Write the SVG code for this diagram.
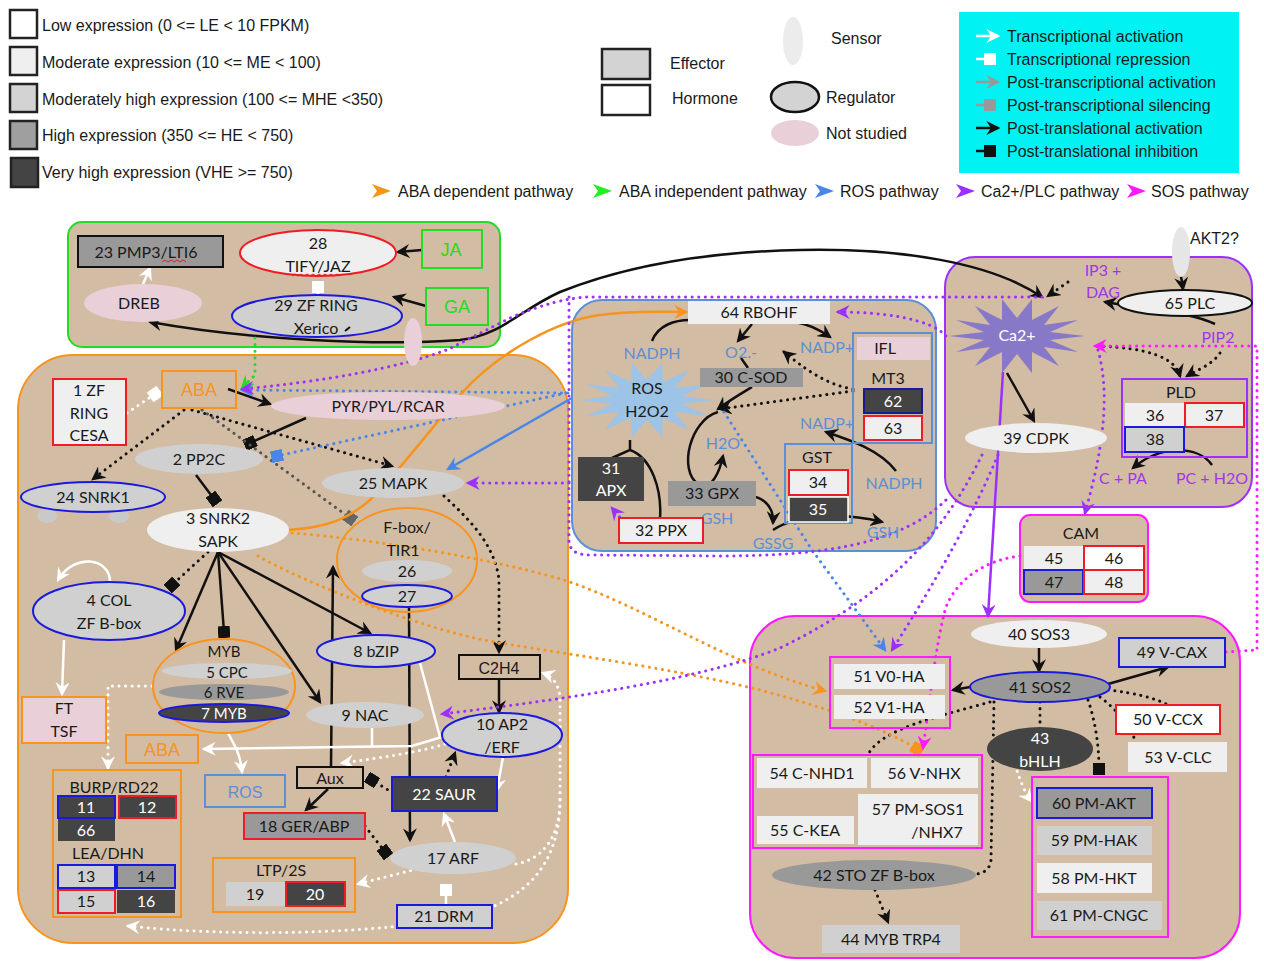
<svg xmlns="http://www.w3.org/2000/svg" width="1264" height="961" viewBox="0 0 1264 961">
<defs>
<style>
.lg{font-family:"Liberation Sans",Arial,sans-serif;font-size:16px;fill:#1a1a1a}
.t{font-family:Lato,"Open Sans","Liberation Sans",sans-serif;font-size:16px;fill:#1a1a1a;text-anchor:middle}
.a{font-family:"Liberation Sans",Arial,sans-serif;text-anchor:middle}
.w{fill:#fff}
.bt{fill:#5b8fd6}
.pt{fill:#a335e8}
.ot{fill:#f7941d;font-size:18px}
.gt{fill:#22dd22;font-size:18px}
.tan{fill:#d3bca4}
.g0{fill:#fff}.g1{fill:#efefef}.g2{fill:#d0d0d0}.g3{fill:#999}.g4{fill:#444}.pk{fill:#e9d0d8}.nf{fill:none}
.sk{stroke:#111;stroke-width:2}
.sr{stroke:#ee1c24;stroke-width:2}
.sb{stroke:#1a1adf;stroke-width:2}
.so{stroke:#f7941d;stroke-width:2}
.sg{stroke:#22dd22;stroke-width:2}
.sm{stroke:#ff1aff;stroke-width:2}
.sp{stroke:#9b30ff;stroke-width:2}
.sl{stroke:#5b8fd6;stroke-width:2}
.c{fill:none;stroke-width:2.5}
.d{fill:none;stroke-width:3;stroke-dasharray:0.1 6.5;stroke-linecap:round}
.ck{stroke:#111}.cw{stroke:#fff}.co{stroke:#f7941d}.cg{stroke:#22dd22}.cb{stroke:#4a86e8}.cp{stroke:#9b30ff}.cm{stroke:#ff1aff}.cgy{stroke:#555}
.sm15{font-size:15px}
</style>
<marker id="aK" viewBox="0 0 12 12" refX="10" refY="6" markerWidth="14" markerHeight="14" orient="auto-start-reverse" markerUnits="userSpaceOnUse"><path d="M0,0 L12,6 L0,12 L4,6z" fill="#111"/></marker>
<marker id="aW" viewBox="0 0 12 12" refX="10" refY="6" markerWidth="14" markerHeight="14" orient="auto-start-reverse" markerUnits="userSpaceOnUse"><path d="M0,0 L12,6 L0,12 L4,6z" fill="#fff"/></marker>
<marker id="aO" viewBox="0 0 12 12" refX="10" refY="6" markerWidth="14" markerHeight="14" orient="auto-start-reverse" markerUnits="userSpaceOnUse"><path d="M0,0 L12,6 L0,12 L4,6z" fill="#f7941d"/></marker>
<marker id="aG" viewBox="0 0 12 12" refX="10" refY="6" markerWidth="14" markerHeight="14" orient="auto-start-reverse" markerUnits="userSpaceOnUse"><path d="M0,0 L12,6 L0,12 L4,6z" fill="#22dd22"/></marker>
<marker id="aB" viewBox="0 0 12 12" refX="10" refY="6" markerWidth="14" markerHeight="14" orient="auto-start-reverse" markerUnits="userSpaceOnUse"><path d="M0,0 L12,6 L0,12 L4,6z" fill="#4a86e8"/></marker>
<marker id="aP" viewBox="0 0 12 12" refX="10" refY="6" markerWidth="14" markerHeight="14" orient="auto-start-reverse" markerUnits="userSpaceOnUse"><path d="M0,0 L12,6 L0,12 L4,6z" fill="#9b30ff"/></marker>
<marker id="aM" viewBox="0 0 12 12" refX="10" refY="6" markerWidth="14" markerHeight="14" orient="auto-start-reverse" markerUnits="userSpaceOnUse"><path d="M0,0 L12,6 L0,12 L4,6z" fill="#ff1aff"/></marker>
<marker id="aGy" viewBox="0 0 12 12" refX="10" refY="6" markerWidth="14" markerHeight="14" orient="auto-start-reverse" markerUnits="userSpaceOnUse"><path d="M0,0 L12,6 L0,12 L4,6z" fill="#999"/></marker>
<marker id="sK" viewBox="0 0 10 10" refX="5" refY="5" markerWidth="12" markerHeight="12" orient="auto" markerUnits="userSpaceOnUse"><rect width="10" height="10" fill="#111"/></marker>
<marker id="sW" viewBox="0 0 10 10" refX="5" refY="5" markerWidth="12" markerHeight="12" orient="auto" markerUnits="userSpaceOnUse"><rect width="10" height="10" fill="#fff"/></marker>
<marker id="sB" viewBox="0 0 10 10" refX="5" refY="5" markerWidth="12" markerHeight="12" orient="auto" markerUnits="userSpaceOnUse"><rect width="10" height="10" fill="#4a86e8"/></marker>
<marker id="sGy" viewBox="0 0 10 10" refX="5" refY="5" markerWidth="12" markerHeight="12" orient="auto" markerUnits="userSpaceOnUse"><rect width="10" height="10" fill="#666"/></marker>
<marker id="sGl" viewBox="0 0 10 10" refX="5" refY="5" markerWidth="12" markerHeight="12" orient="auto" markerUnits="userSpaceOnUse"><rect width="10" height="10" fill="#999"/></marker>
<marker id="sO" viewBox="0 0 10 10" refX="5" refY="5" markerWidth="12" markerHeight="12" orient="auto" markerUnits="userSpaceOnUse"><rect width="10" height="10" fill="#f7941d"/></marker>
</defs>
<rect width="1264" height="961" fill="#fff"/>

<g id="legend-expression">
<rect x="10" y="10" width="27" height="28" fill="#fff" stroke="#222" stroke-width="2.5"/>
<text class="lg" x="42" y="31">Low expression (0 &lt;= LE &lt; 10 FPKM)</text>
<rect x="10" y="47" width="27" height="28" fill="#efefef" stroke="#222" stroke-width="2.5"/>
<text class="lg" x="42" y="68">Moderate expression (10 &lt;= ME &lt; 100)</text>
<rect x="10" y="84" width="27" height="28" fill="#d3d3d3" stroke="#222" stroke-width="2.5"/>
<text class="lg" x="42" y="105">Moderately high expression (100 &lt;= MHE &lt;350)</text>
<rect x="10" y="121" width="27" height="28" fill="#9f9f9f" stroke="#222" stroke-width="2.5"/>
<text class="lg" x="42" y="141">High expression (350 &lt;= HE &lt; 750)</text>
<rect x="11" y="158" width="27" height="29" fill="#444" stroke="#222" stroke-width="2.5"/>
<text class="lg" x="42" y="178">Very high expression (VHE &gt;= 750)</text>
</g>

<g id="legend-types">
<rect x="602" y="49" width="48" height="30" fill="#d3d3d3" stroke="#222" stroke-width="2.5"/>
<text class="lg" x="670" y="69">Effector</text>
<rect x="602" y="85" width="48" height="30" fill="#fff" stroke="#222" stroke-width="2.5"/>
<text class="lg" x="672" y="104">Hormone</text>
<ellipse cx="793" cy="41" rx="10" ry="24" fill="#ececec"/>
<text class="lg" x="831" y="44">Sensor</text>
<ellipse cx="795" cy="97" rx="24" ry="15" fill="#d3d3d3" stroke="#111" stroke-width="2.5"/>
<text class="lg" x="826" y="103">Regulator</text>
<ellipse cx="795" cy="133" rx="24" ry="13" fill="#e9d0d8"/>
<text class="lg" x="826" y="139">Not studied</text>
</g>

<g id="legend-interactions">
<rect x="959" y="12" width="280" height="161" fill="#00f2f2"/>
<path class="c cw" d="M976,36 L998,36" marker-end="url(#aW)"/>
<text class="lg" x="1007" y="42">Transcriptional activation</text>
<path class="c cw" d="M976,59 L990,59" marker-end="url(#sW)"/>
<text class="lg" x="1007" y="65">Transcriptional repression</text>
<path class="c" stroke="#999" d="M976,82 L998,82" marker-end="url(#aGy)"/>
<text class="lg" x="1007" y="88">Post-transcriptional activation</text>
<path class="c" stroke="#999" d="M976,105 L990,105" marker-end="url(#sGl)"/>
<text class="lg" x="1007" y="111">Post-transcriptional silencing</text>
<path class="c ck" d="M976,128 L998,128" marker-end="url(#aK)"/>
<text class="lg" x="1007" y="134">Post-translational activation</text>
<path class="c ck" d="M976,151 L990,151" marker-end="url(#sK)"/>
<text class="lg" x="1007" y="157">Post-translational inhibition</text>
</g>

<g id="legend-pathways">
<polygon points="372,184 391,191 372,198 377,191" fill="#f7941d"/>
<text class="lg" x="398" y="197">ABA dependent pathway</text>
<polygon points="593,184 612,191 593,198 598,191" fill="#22ee22"/>
<text class="lg" x="619" y="197">ABA independent pathway</text>
<polygon points="815,184 834,191 815,198 820,191" fill="#4a86e8"/>
<text class="lg" x="840" y="197">ROS pathway</text>
<polygon points="956,184 975,191 956,198 961,191" fill="#9b30ff"/>
<text class="lg" x="981" y="197">Ca2+/PLC pathway</text>
<polygon points="1127,184 1146,191 1127,198 1132,191" fill="#ff1aff"/>
<text class="lg" x="1151" y="197">SOS pathway</text>
</g>

<g id="box-ja-ga"><rect x="68" y="222" width="432" height="125" rx="14" class="tan sg" stroke-width="2.5"/></g>
<g id="box-aba"><rect x="18" y="355" width="550" height="588" rx="55" class="tan so" stroke-width="2.5"/></g>
<g id="box-ros"><rect x="572" y="300" width="364" height="251" rx="30" class="tan sl"/></g>
<g id="box-ca-plc"><rect x="945" y="257" width="307" height="250" rx="30" class="tan sp"/></g>
<g id="box-cam"><rect x="1020" y="515" width="128" height="87" rx="10" class="tan sm"/></g>
<g id="box-sos"><rect x="750" y="616" width="490" height="342" rx="45" class="tan sm"/></g>

<g id="connectors">
<path class="c ck" d="M422,250 L398,252" marker-end="url(#aK)"/>
<path class="c ck" d="M426,306 L394,297" marker-end="url(#aK)"/>
<path class="c ck" d="M150,322 C250,340 380,346 460,340 C500,336 520,310 560,292 C620,268 700,252 800,250 C900,248 990,262 1042,297" marker-start="url(#aK)" marker-end="url(#aK)"/>
<path class="c ck" d="M228,389 L270,404" marker-end="url(#aK)"/>
<path class="c ck" d="M306,418 L250,443" marker-end="url(#sK)"/>
<path class="c ck" d="M196,475 L214,499" marker-end="url(#sK)"/>
<path class="c ck" d="M218,552 L176,650" marker-end="url(#aK)"/>
<path class="c ck" d="M218,552 L224,632" marker-end="url(#sK)"/>
<path class="c ck" d="M218,552 L320,702" marker-end="url(#aK)"/>
<path class="c ck" d="M218,552 L370,633" marker-end="url(#aK)"/>
<path class="c ck" d="M331,767 L333,567" marker-end="url(#aK)"/>
<path class="c ck" d="M409,607 L410,840" marker-end="url(#aK)"/>
<path class="c ck" d="M499,679 L499,712" marker-end="url(#aK)"/>
<path class="c ck" d="M328,789 L306,810" marker-end="url(#aK)"/>
<path class="c ck" d="M1007,373 L1034,421" marker-end="url(#aK)"/>
<path class="c ck" d="M1181,276 L1183,289" marker-end="url(#aK)"/>
<path class="c ck" d="M1215,324 C1190,312 1150,310 1105,302" marker-end="url(#aK)"/>
<path class="c ck" d="M1212,465 C1198,445 1160,445 1133,468" marker-end="url(#aK)"/>
<path class="c ck" d="M1039,648 L1039,671" marker-end="url(#aK)"/>
<path class="c ck" d="M1108,684 L1168,667" marker-end="url(#aK)"/>
<path class="c ck" d="M970,687 L953,690" marker-end="url(#aK)"/>
<path class="c ck" d="M652,341 C658,325 675,320 690,320"/>
<path class="c ck" d="M752,324 L738,341" marker-end="url(#aK)"/>
<path class="c ck" d="M795,322 C808,324 820,330 830,337" marker-end="url(#aK)"/>
<path class="c ck" d="M741,358 L748,368"/>
<path class="c ck" d="M752,387 C742,393 730,400 718,409" marker-end="url(#aK)"/>
<path class="c ck" d="M718,412 C690,420 678,470 698,484 C712,492 720,470 723,456" marker-end="url(#aK)"/>
<path class="c ck" d="M742,495 C762,495 774,505 773,523" marker-end="url(#aK)"/>
<path class="c ck" d="M773,530 C800,512 850,514 882,522" marker-end="url(#aK)"/>
<path class="c ck" d="M896,471 C880,450 850,440 826,432" marker-end="url(#aK)"/>
<path class="c ck" d="M630,440 L630,450 L612,458 M630,450 C652,458 662,490 660,519"/>
<path class="d ck" d="M184,410 L93,479" marker-end="url(#aK)"/>
<path class="d ck" d="M192,410 L392,466" marker-end="url(#aK)"/>
<path class="d ck" d="M444,496 C470,520 495,545 499,580 L499,652" marker-end="url(#aK)"/>
<path class="d ck" d="M208,552 L172,585" marker-end="url(#sK)"/>
<path class="d ck" d="M393,793 L372,780" marker-end="url(#sK)"/>
<path class="d ck" d="M446,777 L455,753" marker-end="url(#aK)"/>
<path class="d ck" d="M365,826 L385,852" marker-end="url(#sK)"/>
<path class="d ck" d="M853,389 C825,385 800,365 784,352" marker-end="url(#aK)"/>
<path class="d ck" d="M853,391 L720,409" marker-end="url(#aK)"/>
<path class="d ck" d="M1068,282 L1048,296" marker-end="url(#aK)"/>
<path class="d ck" d="M1097,346 C1150,348 1175,358 1180,376" marker-end="url(#aK)"/>
<path class="d ck" d="M1220,353 C1212,365 1197,370 1187,376" marker-end="url(#aK)"/>
<path class="d ck" d="M990,702 C945,715 880,728 868,755"/>
<path class="d ck" d="M994,702 L991,860 C990,870 983,873 977,874"/>
<path class="d ck" d="M1040,702 L1040,726"/>
<path class="d ck" d="M1088,700 C1095,720 1099,745 1099,769" marker-end="url(#sK)"/>
<path class="d ck" d="M1100,697 C1120,712 1130,728 1136,742"/>
<path class="d ck" d="M1108,690 C1135,693 1155,698 1168,705"/>
<path class="d ck" d="M875,890 L888,922" marker-end="url(#aK)"/>
<path class="d cgy" d="M202,410 L350,518" marker-end="url(#sGy)"/>
<path class="c cw" d="M143,284 L150,268" marker-end="url(#aW)"/>
<path class="c cw" d="M318,295 L318,287" marker-end="url(#sW)"/>
<path class="c cw" d="M110,582 C110,558 75,552 58,580" marker-end="url(#aW)"/>
<path class="c cw" d="M64,640 L62,694" marker-end="url(#aW)"/>
<path class="c cw" d="M228,733 C234,745 240,752 242,772" marker-end="url(#aW)"/>
<path class="c cw" d="M420,663 L440,737 M372,728 L372,747"/>
<path class="c cw" d="M442,737 L412,746 L204,749" marker-end="url(#aW)"/>
<path class="c cw" d="M503,757 L497,790" marker-end="url(#aW)"/>
<path class="c cw" d="M455,842 L444,814" marker-end="url(#aW)"/>
<path class="c cw" d="M446,904 L446,890" marker-end="url(#sW)"/>
<path class="d cw" d="M127,413 L155,394" marker-end="url(#sW)"/>
<path class="d cw" d="M152,686 L108,686 L108,768" marker-end="url(#aW)"/>
<path class="d cw" d="M417,869 L358,884" marker-end="url(#aW)"/>
<path class="d cw" d="M516,864 C540,860 560,840 560,800 L560,700 C560,685 552,676 543,673" marker-end="url(#aW)"/>
<path class="d cw" d="M560,800 C560,870 520,900 470,915 C380,935 230,937 128,926" marker-end="url(#aW)"/>
<path class="d cw" d="M445,744 C420,752 380,758 342,763" marker-end="url(#aW)"/>
<path class="d cw" d="M1015,765 C1020,780 1025,793 1031,801" marker-end="url(#aW)"/>
<path class="c cb" d="M572,398 L448,469" marker-end="url(#aB)"/>
<path class="d cb" d="M568,393 L242,390" marker-end="url(#aB)"/>
<path class="d cb" d="M566,393 L277,456" marker-end="url(#sB)"/>
<path class="d cb" d="M724,412 L812,550 L885,650" marker-end="url(#aB)"/>
<path class="d cg" d="M255,338 L255,375 L242,388" marker-end="url(#aG)"/>
<path class="c co" d="M288,530 C320,528 345,522 370,500 C400,470 430,430 460,395 C500,350 560,320 600,315 C640,310 660,312 686,312" marker-end="url(#aO)"/>
<path class="d co" d="M292,533 C380,540 500,560 570,582 C650,610 730,665 825,691" marker-end="url(#aO)"/>
<path class="d co" d="M258,556 C300,580 420,630 500,643 C580,656 680,670 760,690 C820,706 880,726 917,749" marker-end="url(#sO)"/>
<path class="d cp" d="M1042,297 L590,297 C570,297 540,305 510,318 L449,349 C400,368 320,382 242,389" marker-end="url(#aP)"/>
<path class="d cp" d="M569,297 L569,540 Q569,555 590,555 L720,556 C820,556 900,545 946,500"/>
<path class="d cp" d="M946,336 C930,318 880,312 838,312" marker-end="url(#aP)"/>
<path class="d cp" d="M569,483 L468,483" marker-end="url(#aP)"/>
<path class="d cp" d="M628,527 L612,508" marker-end="url(#aP)"/>
<path class="d cp" d="M982,455 C950,520 900,590 780,648 C700,680 560,700 442,714" marker-end="url(#aP)"/>
<path class="d cp" d="M998,455 C975,510 940,575 892,650" marker-end="url(#aP)"/>
<path class="c cp" d="M1003,372 L988,616" marker-end="url(#aP)"/>
<path class="d cp" d="M1098,350 C1112,400 1100,460 1085,513" marker-end="url(#aP)"/>
<path class="d cm" d="M1226,652 L1257,650 L1257,346 L1095,346" marker-end="url(#aM)"/>
<path class="d cm" d="M1020,556 C985,560 955,580 945,610 C935,650 930,700 923,748" marker-end="url(#aM)"/>
</g>

<g id="n23"><rect x="78" y="236" width="145" height="31" class="g3 sk"/><text class="t" x="146" y="258">23 PMP3/LTI6</text><path d="M162,262 l3,-2 l3,2 l3,-2 l3,2 l3,-2 l3,2 l3,-2 l3,2" fill="none" stroke="#e02020" stroke-width="1"/></g>
<g id="n28"><ellipse cx="318" cy="253" rx="78" ry="23" class="g1 sr"/><text class="t" x="318" y="249">28</text><text class="t" x="318" y="272">TIFY/JAZ</text><path d="M292,276 l3,-2 l3,2 l3,-2 l3,2 l3,-2 l3,2 l3,-2 l3,2 l3,-2 l3,2 l3,-2 l3,2 l3,-2 l3,2 l3,-2 l3,2" fill="none" stroke="#e02020" stroke-width="1"/></g>
<g id="ja"><rect x="422" y="230" width="60" height="38" class="nf sg"/><text class="t gt a" x="451" y="256">JA</text></g>
<g id="ga"><rect x="426" y="288" width="62" height="37" class="nf sg"/><text class="t gt a" x="457" y="313">GA</text></g>
<g id="dreb"><ellipse cx="143" cy="303" rx="59" ry="19" class="pk"/><text class="t" x="139" y="309">DREB</text></g>
<g id="n29"><ellipse cx="317" cy="316" rx="85" ry="21" class="g2 sb"/><text class="t" x="316" y="311">29 ZF RING</text><text class="t" x="316" y="334">Xerico</text><path d="M345,331 L350,327" stroke="#111" stroke-width="2"/></g>
<g id="sensor-aba"><ellipse cx="413" cy="342" rx="9" ry="24" class="pk"/></g>

<g id="n1"><rect x="53" y="379" width="73" height="66" class="g1 sr"/><text class="t" x="89" y="396">1 ZF</text><text class="t" x="89" y="419">RING</text><text class="t" x="89" y="441">CESA</text></g>
<g id="aba"><rect x="162" y="371" width="74" height="37" class="nf so"/><text class="t ot a" x="199" y="396">ABA</text></g>
<g id="pyr"><ellipse cx="388" cy="406" rx="117" ry="14" class="pk"/><text class="t" x="388" y="412">PYR/PYL/RCAR</text></g>
<g id="n2"><ellipse cx="199" cy="459" rx="64" ry="15" class="g2"/><text class="t" x="199" y="465">2 PP2C</text></g>
<g id="n24"><ellipse cx="47" cy="516" rx="10" ry="7" fill="#c9c9c9"/><ellipse cx="119" cy="516" rx="10" ry="7" fill="#c9c9c9"/><ellipse cx="93" cy="497" rx="72" ry="15" class="g2 sb"/><text class="t" x="93" y="503">24 SNRK1</text></g>
<g id="n3"><ellipse cx="218" cy="530" rx="71" ry="22" class="g1"/><text class="t" x="218" y="524">3 SNRK2</text><text class="t" x="218" y="547">SAPK</text></g>
<g id="n25"><ellipse cx="393" cy="483" rx="71" ry="15" class="g2"/><text class="t" x="393" y="489">25 MAPK</text></g>
<g id="fbox"><ellipse cx="407" cy="560" rx="70" ry="52" class="nf so"/><text class="t" x="407" y="533">F-box/</text><text class="t" x="403" y="556">TIR1</text>
<ellipse cx="407" cy="571" rx="45" ry="11" class="g2"/><text class="t" x="407" y="577">26</text>
<ellipse cx="407" cy="596" rx="45" ry="11" class="g2 sb"/><text class="t" x="407" y="602">27</text></g>
<g id="n4"><ellipse cx="109" cy="611" rx="76" ry="29" class="g2 sb"/><text class="t" x="109" y="606">4 COL</text><text class="t" x="109" y="629">ZF B-box</text></g>
<g id="ft"><rect x="22" y="697" width="84" height="46" class="pk so"/><text class="t" x="64" y="714">FT</text><text class="t" x="64" y="737">TSF</text></g>
<g id="myb"><ellipse cx="224" cy="686" rx="71" ry="47" class="nf so"/><text class="t sm15" x="224" y="657">MYB</text>
<ellipse cx="227" cy="671" rx="65" ry="8" class="g2"/><text class="t sm15" x="227" y="678">5 CPC</text>
<ellipse cx="224" cy="692" rx="65" ry="8" class="g3"/><text class="t sm15" x="224" y="698">6 RVE</text>
<ellipse cx="224" cy="713" rx="65" ry="9" class="g4 sb"/><text class="t w sm15" x="224" y="719">7 MYB</text></g>
<g id="n8"><ellipse cx="376" cy="651" rx="59" ry="16" class="g2 sb"/><text class="t" x="376" y="657">8 bZIP</text></g>
<g id="n9"><ellipse cx="365" cy="715" rx="59" ry="13" class="g2"/><text class="t" x="365" y="721">9 NAC</text></g>
<g id="c2h4"><rect x="459" y="655" width="81" height="24" class="nf sk"/><text class="t a" x="499" y="674" font-size="18">C2H4</text></g>
<g id="n10"><ellipse cx="502" cy="735" rx="60" ry="22" class="g2 sb"/><text class="t" x="502" y="730">10 AP2</text><text class="t" x="502" y="753">/ERF</text></g>
<g id="aba2"><rect x="126" y="735" width="72" height="28" class="nf so"/><text class="t ot a" x="162" y="756">ABA</text></g>
<g id="ros-label"><rect x="205" y="775" width="80" height="32" class="nf sl"/><text class="t a bt" x="245" y="798" font-size="18">ROS</text></g>
<g id="aux"><rect x="297" y="767" width="66" height="21" class="nf sk"/><text class="t" x="330" y="784" font-size="17">Aux</text></g>
<g id="n22"><rect x="392" y="777" width="105" height="34" class="g4 sb"/><text class="t w" x="444" y="800">22 SAUR</text></g>
<g id="n18"><rect x="244" y="813" width="121" height="26" class="g3 sr"/><text class="t" x="304" y="832">18 GER/ABP</text></g>
<g id="n17"><ellipse cx="453" cy="858" rx="63" ry="16" class="g2"/><text class="t" x="453" y="864">17 ARF</text></g>
<g id="n21"><rect x="397" y="905" width="95" height="23" class="g2 sb"/><text class="t" x="444" y="922">21 DRM</text></g>
<g id="ltp"><rect x="213" y="858" width="142" height="54" class="nf so"/><text class="t" x="281" y="876">LTP/2S</text>
<rect x="226" y="882" width="59" height="24" class="g2"/><text class="t" x="255" y="900">19</text>
<rect x="286" y="882" width="59" height="24" class="g4 sr"/><text class="t w" x="315" y="900">20</text></g>
<g id="burp"><rect x="53" y="770" width="128" height="147" class="nf so"/><text class="t" x="114" y="793">BURP/RD22</text>
<rect x="58" y="796" width="57" height="22" class="g4 sb"/><text class="t w" x="86" y="813">11</text>
<rect x="119" y="796" width="57" height="22" class="g4 sr"/><text class="t w" x="147" y="813">12</text>
<rect x="58" y="819" width="57" height="22" class="g4"/><text class="t w" x="86" y="836">66</text>
<text class="t" x="108" y="859">LEA/DHN</text>
<rect x="58" y="865" width="57" height="23" class="g2 sb"/><text class="t" x="86" y="882">13</text>
<rect x="117" y="865" width="58" height="23" class="g3 sb"/><text class="t" x="146" y="882">14</text>
<rect x="58" y="890" width="57" height="23" class="g2 sr"/><text class="t" x="86" y="907">15</text>
<rect x="117" y="890" width="58" height="23" class="g4"/><text class="t w" x="146" y="907">16</text></g>

<g id="n64"><rect x="688" y="301" width="142" height="23" class="g1"/><text class="t" x="759" y="318">64 RBOHF</text></g>
<g id="ros-h2o2"><polygon points="715,400 682,404 708,416 675,412 689,430 663,418 662,437 647,420 632,437 631,418 605,430 619,412 586,416 612,404 579,400 612,396 586,384 619,388 605,370 631,382 632,363 647,380 662,363 663,382 689,370 675,388 708,384 682,396" fill="#9dc3e6"/><text class="t" x="647" y="394">ROS</text><text class="t" x="647" y="417">H2O2</text></g>
<g id="ros-labels"><text class="t bt" x="652" y="359">NADPH</text><text class="t bt" x="741" y="358">O2.-</text><text class="t bt" x="827" y="353">NADP+</text><text class="t bt" x="827" y="429">NADP+</text><text class="t bt" x="723" y="449">H2O</text><text class="t bt" x="894" y="489">NADPH</text><text class="t bt" x="717" y="524">GSH</text><text class="t bt" x="773" y="549">GSSG</text><text class="t bt" x="883" y="538">GSH</text></g>
<g id="n30"><rect x="700" y="368" width="103" height="19" class="g3"/><text class="t" x="751" y="383">30 C-SOD</text></g>
<g id="ifl-mt3"><rect x="853" y="333" width="79" height="110" class="nf sl"/><rect x="857" y="337" width="73" height="23" class="pk"/><text class="t" x="885" y="354">IFL</text><text class="t" x="888" y="384">MT3</text>
<rect x="864" y="389" width="58" height="24" class="g4" stroke="#1a1a99" stroke-width="2"/><text class="t w" x="893" y="407">62</text>
<rect x="864" y="416" width="58" height="24" class="g1 sr"/><text class="t" x="893" y="434">63</text></g>
<g id="gst"><rect x="785" y="444" width="67" height="79" class="nf sl"/><text class="t" x="817" y="463">GST</text>
<rect x="789" y="470" width="59" height="25" class="g1 sr"/><text class="t" x="818" y="488">34</text>
<rect x="789" y="497" width="59" height="25" class="g4" stroke="#fff" stroke-width="1.5"/><text class="t w" x="818" y="515">35</text></g>
<g id="n31"><rect x="578" y="457" width="66" height="44" class="g4"/><text class="t w" x="611" y="474">31</text><text class="t w" x="611" y="496">APX</text></g>
<g id="n33"><rect x="668" y="481" width="88" height="25" class="g3"/><text class="t" x="712" y="499">33 GPX</text></g>
<g id="n32"><rect x="619" y="518" width="84" height="25" class="g1 sr"/><text class="t" x="661" y="536">32 PPX</text></g>

<g id="akt2"><ellipse cx="1181" cy="252" rx="9" ry="25" fill="#e6e6e6"/><text class="lg" x="1190" y="244">AKT2?</text></g>
<g id="n65"><ellipse cx="1185" cy="303" rx="67" ry="13" class="g1 sk"/><text class="t" x="1190" y="309">65 PLC</text></g>
<g id="ca"><polygon points="1085,336 1050,340 1078,352 1044,347 1059,366 1032,352 1032,373 1017,354 1002,373 1002,352 975,366 990,347 956,352 984,340 949,336 984,332 956,320 990,325 975,306 1002,320 1002,299 1017,318 1032,299 1032,320 1059,306 1044,325 1078,320 1050,332" fill="#8878c8"/><text class="t w" x="1017" y="341">Ca2+</text></g>
<g id="plc-labels"><text class="t pt" x="1103" y="276">IP3 +</text><text class="t pt" x="1103" y="298">DAG</text><text class="t pt" x="1218" y="343">PIP2</text><text class="t pt" x="1123" y="484">C + PA</text><text class="t pt" x="1212" y="484">PC + H2O</text></g>
<g id="pld"><rect x="1122" y="379" width="125" height="78" class="nf sp"/><text class="t" x="1181" y="398">PLD</text>
<rect x="1125" y="403" width="60" height="24" class="g1"/><text class="t" x="1155" y="421">36</text>
<rect x="1185" y="403" width="59" height="24" class="g1 sr"/><text class="t" x="1214" y="421">37</text>
<rect x="1125" y="427" width="59" height="25" class="g2 sb"/><text class="t" x="1155" y="445">38</text></g>
<g id="n39"><ellipse cx="1036" cy="438" rx="71" ry="15" class="g1"/><text class="t" x="1036" y="444">39 CDPK</text></g>

<g id="cam"><text class="t" x="1081" y="539">CAM</text>
<rect x="1024" y="546" width="60" height="24" class="g1"/><text class="t" x="1054" y="564">45</text>
<rect x="1084" y="546" width="60" height="24" class="g0 sr"/><text class="t" x="1114" y="564">46</text>
<rect x="1024" y="570" width="59" height="24" class="g3 sb"/><text class="t" x="1054" y="588">47</text>
<rect x="1084" y="570" width="60" height="24" class="g1 sr"/><text class="t" x="1114" y="588">48</text></g>

<g id="n40"><ellipse cx="1039" cy="634" rx="68" ry="14" class="g1"/><text class="t" x="1039" y="640">40 SOS3</text></g>
<g id="n41"><ellipse cx="1040" cy="687" rx="70" ry="15" class="g3 sb"/><text class="t" x="1040" y="693">41 SOS2</text></g>
<g id="n49"><rect x="1119" y="638" width="106" height="29" class="g2 sb"/><text class="t" x="1172" y="658">49 V-CAX</text></g>
<g id="ha"><rect x="830" y="657" width="120" height="71" class="nf sm"/>
<rect x="834" y="664" width="111" height="25" class="g1"/><text class="t" x="889" y="682">51 V0-HA</text>
<rect x="834" y="695" width="111" height="24" class="g1"/><text class="t" x="889" y="713">52 V1-HA</text></g>
<g id="n50"><rect x="1116" y="705" width="104" height="29" class="g0 sr"/><text class="t" x="1168" y="725">50 V-CCX</text></g>
<g id="n53"><rect x="1128" y="742" width="99" height="30" class="g1"/><text class="t" x="1178" y="763">53 V-CLC</text></g>
<g id="n43"><ellipse cx="1040" cy="749" rx="53" ry="22" class="g4"/><text class="t w" x="1040" y="744">43</text><text class="t w" x="1040" y="767">bHLH</text></g>
<g id="nhx"><rect x="753" y="755" width="229" height="93" class="nf sm"/>
<rect x="757" y="758" width="110" height="30" class="g1"/><text class="t" x="812" y="779">54 C-NHD1</text>
<rect x="871" y="758" width="107" height="30" class="g1"/><text class="t" x="924" y="779">56 V-NHX</text>
<rect x="757" y="816" width="97" height="28" class="g1"/><text class="t" x="805" y="836">55 C-KEA</text>
<rect x="858" y="794" width="120" height="51" class="g1"/><text class="t" x="918" y="815">57 PM-SOS1</text><text class="t" x="937" y="838">/NHX7</text></g>
<g id="n42"><ellipse cx="874" cy="875" rx="102" ry="15" class="g3"/><text class="t" x="874" y="881">42 STO ZF B-box</text></g>
<g id="n44"><rect x="822" y="925" width="138" height="28" class="g2"/><text class="t" x="891" y="945">44 MYB TRP4</text></g>
<g id="pm"><rect x="1032" y="777" width="136" height="160" class="nf sm"/>
<rect x="1037" y="788" width="115" height="30" class="g3 sb"/><text class="t" x="1094" y="809">60 PM-AKT</text>
<rect x="1037" y="826" width="115" height="29" class="g2"/><text class="t" x="1094" y="846">59 PM-HAK</text>
<rect x="1037" y="863" width="115" height="30" class="g1"/><text class="t" x="1094" y="884">58 PM-HKT</text>
<rect x="1037" y="901" width="125" height="29" class="g2"/><text class="t" x="1099" y="921">61 PM-CNGC</text></g>
</svg>
